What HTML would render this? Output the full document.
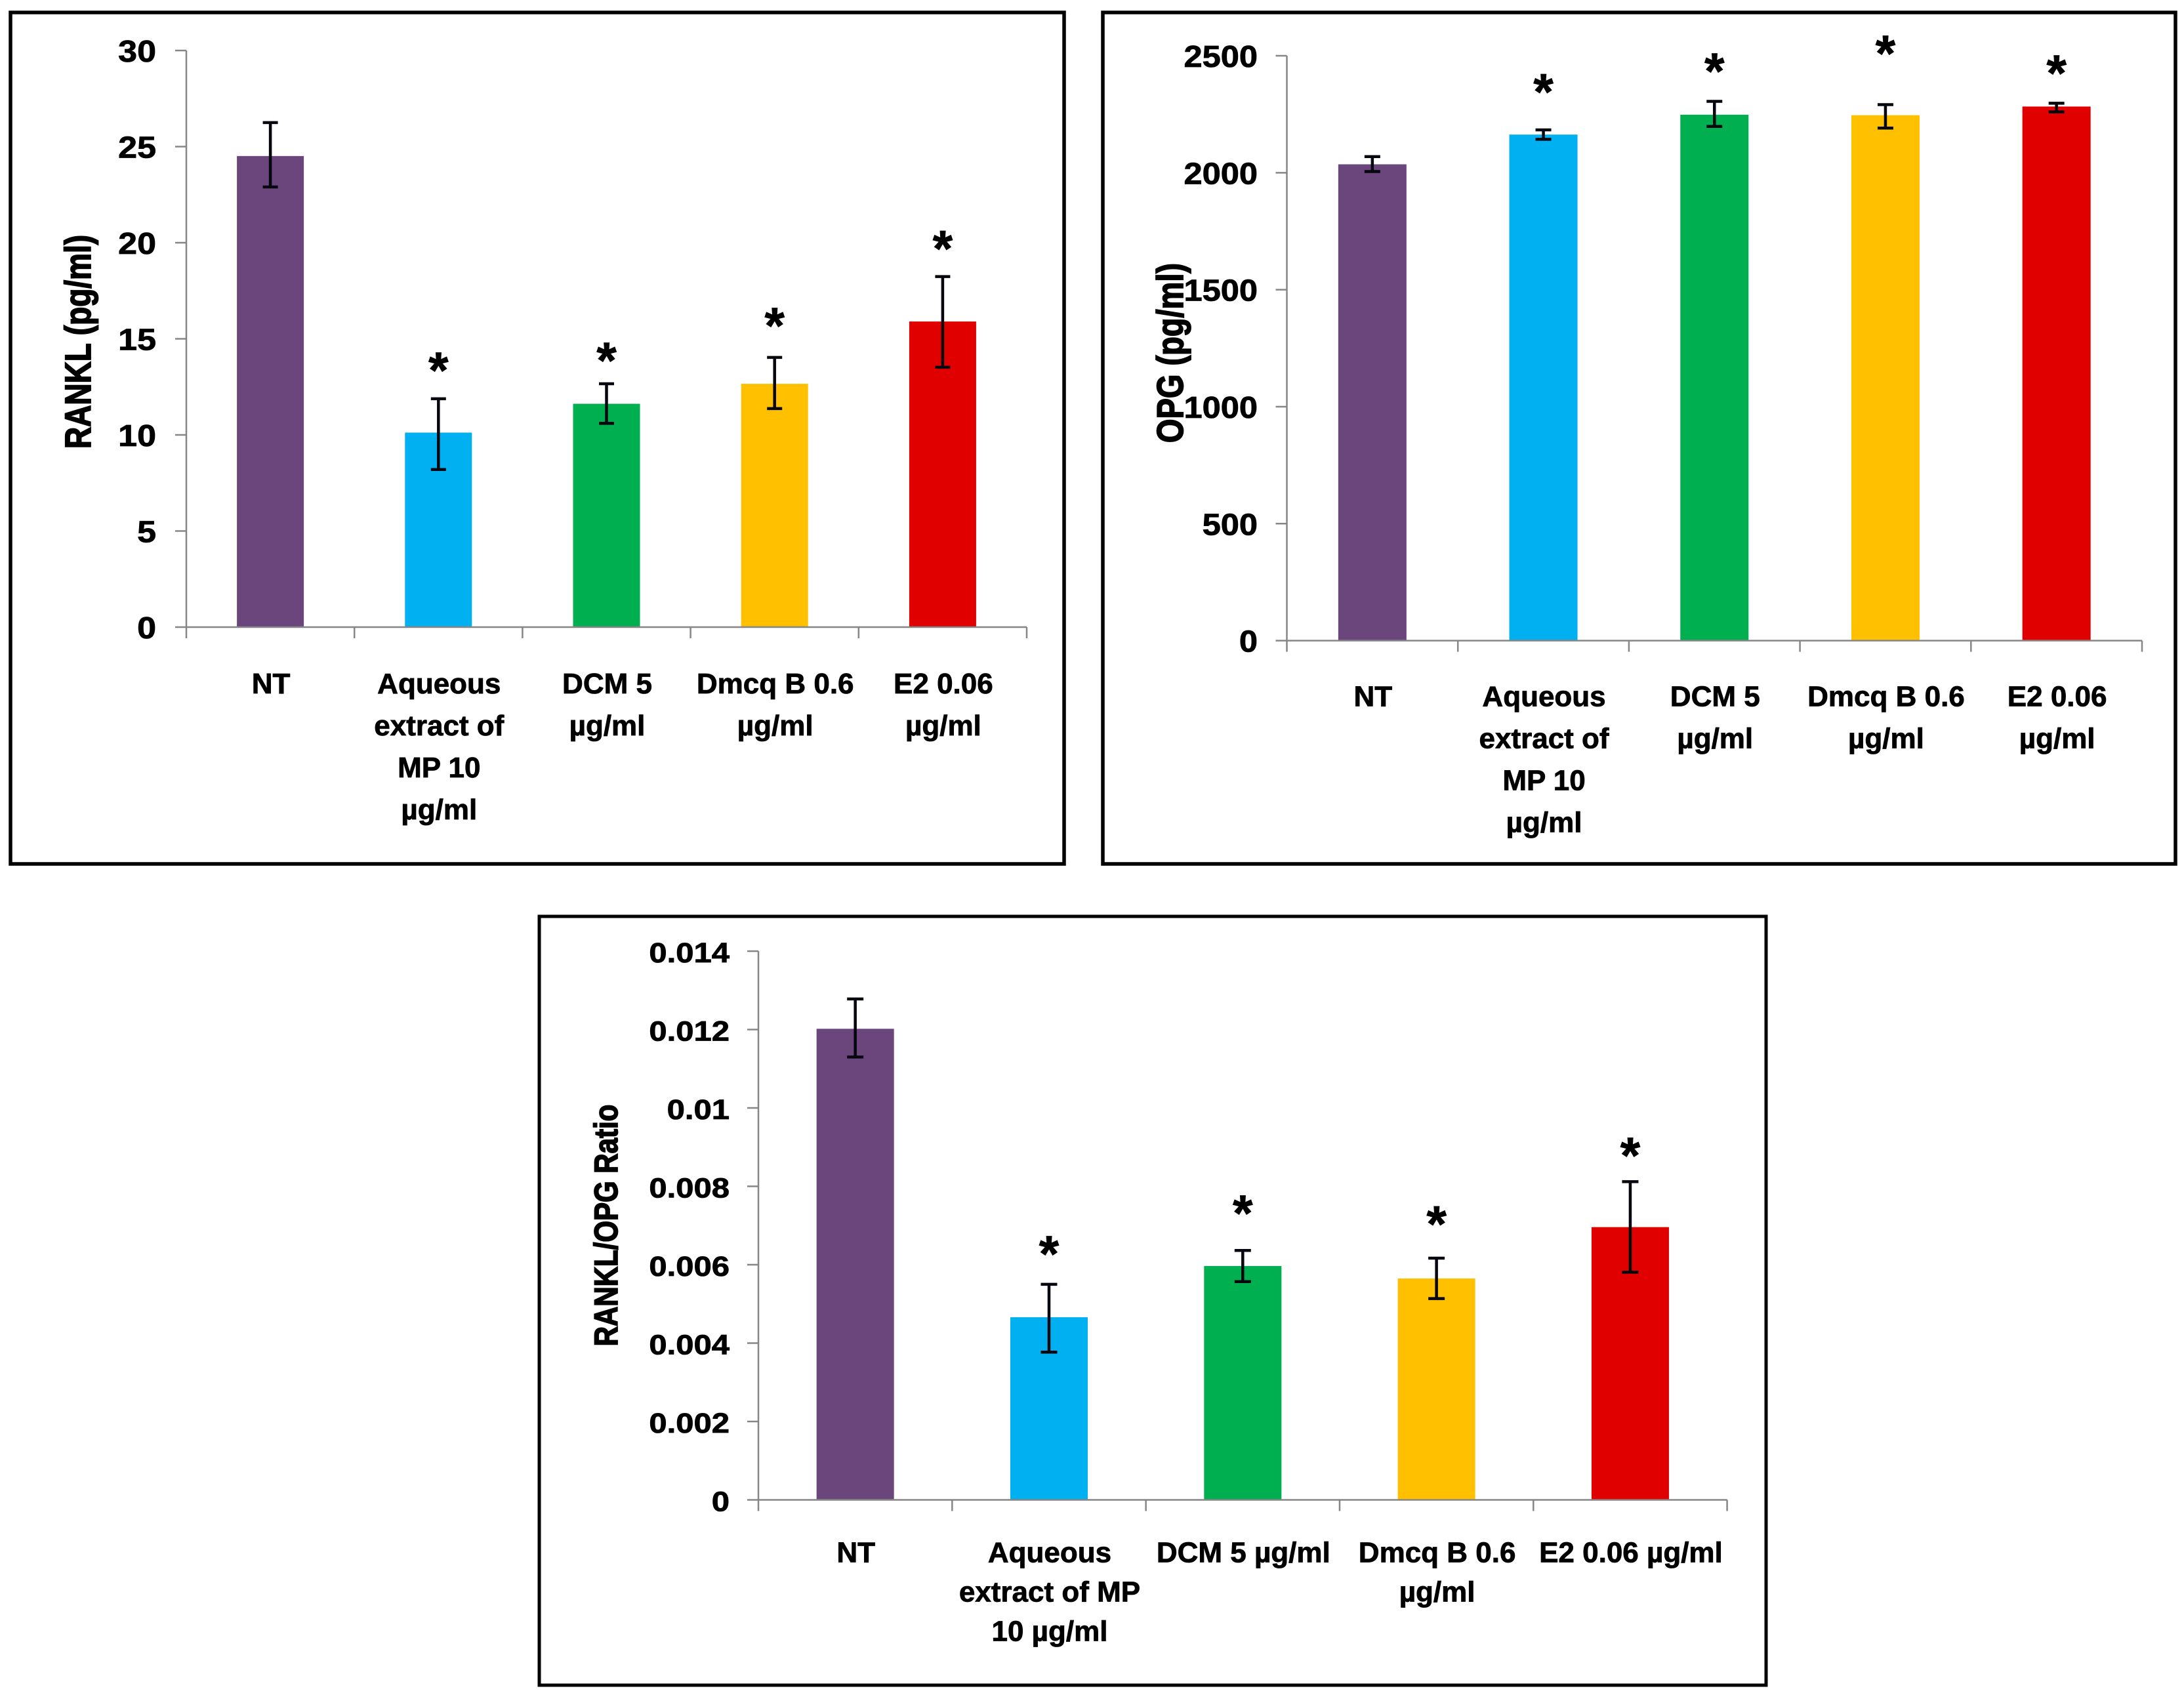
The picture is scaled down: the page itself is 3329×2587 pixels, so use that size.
<!DOCTYPE html>
<html lang="en">
<head>
<meta charset="utf-8">
<title>RANKL, OPG and RANKL/OPG ratio bar charts</title>
<style>
html,body{margin:0;padding:0;background:#fff;}
svg{display:block;}
text{font-family:"Liberation Sans",sans-serif;font-weight:bold;fill:#000;stroke:#000;stroke-width:0.8px;}
</style>
</head>
<body>
<svg id="figure" xmlns="http://www.w3.org/2000/svg" width="3329" height="2587" viewBox="0 0 3329 2587">
<rect x="0" y="0" width="3329" height="2587" fill="#fff"/>
</svg>
<script>
// Shared category colours
const barColors = ['#6A467D', '#00B0F0', '#00B050', '#FFC000', '#E00000'];

// Chart 1: RANKL
const rankValues = [24.51, 10.12, 11.62, 12.66, 15.9];
const rankErrHigh = [26.25, 11.88, 12.66, 14.03, 18.24];
const rankErrLow = [22.9, 8.2, 10.6, 11.37, 13.52];
const rankStars = [null, 13.65, 14.16, 15.97, 19.99];
const rankTicks = [0, 5, 10, 15, 20, 25, 30];
const rankTickLabels = ['0', '5', '10', '15', '20', '25', '30'];
const rankCategories = [['NT'], ['Aqueous', 'extract of', 'MP 10', 'µg/ml'], ['DCM 5', 'µg/ml'], ['Dmcq B 0.6', 'µg/ml'], ['E2 0.06', 'µg/ml']];

// Chart 2: OPG
const opgValues = [2036, 2163, 2248, 2246, 2283];
const opgErrHigh = [2069, 2183, 2305, 2291, 2297];
const opgErrLow = [2005, 2143, 2198, 2191, 2260];
const opgStars = [null, 2370, 2458, 2534, 2449];
const opgTicks = [0, 500, 1000, 1500, 2000, 2500];
const opgTickLabels = ['0', '500', '1000', '1500', '2000', '2500'];
const opgCategories = [['NT'], ['Aqueous', 'extract of', 'MP 10', 'µg/ml'], ['DCM 5', 'µg/ml'], ['Dmcq B 0.6', 'µg/ml'], ['E2 0.06', 'µg/ml']];

// Chart 3: RANKL/OPG ratio
const ratioValues = [0.01202, 0.00466, 0.005967, 0.005649, 0.006959];
const ratioErrHigh = [0.01278, 0.0055, 0.006363, 0.006167, 0.00812];
const ratioErrLow = [0.0113, 0.00377, 0.00557, 0.005135, 0.00581];
const ratioStars = [null, 0.00642, 0.00746, 0.00718, 0.00893];
const ratioTicks = [0, 0.002, 0.004, 0.006, 0.008, 0.01, 0.012, 0.014];
const ratioTickLabels = ['0', '0.002', '0.004', '0.006', '0.008', '0.01', '0.012', '0.014'];
const ratioCategories = [['NT'], ['Aqueous', 'extract of MP', '10 µg/ml'], ['DCM 5 µg/ml'], ['Dmcq B 0.6', 'µg/ml'], ['E2 0.06 µg/ml']];

const NS = 'http://www.w3.org/2000/svg';
const figure = document.getElementById('figure');

function make(tag, attrs, parent) {
  const el = document.createElementNS(NS, tag);
  for (const k in attrs) el.setAttribute(k, attrs[k]);
  parent.appendChild(el);
  return el;
}

function drawChart(cfg) {
  const g = make('g', {}, figure);
  
  

  const frame = make('rect', {
    x: cfg.frame[0], y: cfg.frame[1],
    width: cfg.frame[2] - cfg.frame[0], height: cfg.frame[3] - cfg.frame[1],
    fill: '#fff', stroke: '#000', 'stroke-width': cfg.frameWidth
  }, g);
  
  

  const maxV = cfg.ticks[cfg.ticks.length - 1];
  const yScale = v => cfg.baseY - (v / maxV) * (cfg.baseY - cfg.topY);
  const count = cfg.values.length;
  const step = (cfg.rightX - cfg.axisX) / count;
  const xScale = i => cfg.axisX + step * (i + 0.5);

  // bars
  cfg.values.forEach((v, i) => {
    const bar = make('rect', {
      x: xScale(i) - cfg.barWidth / 2, y: yScale(v),
      width: cfg.barWidth, height: cfg.baseY - yScale(v),
      fill: barColors[i]
    }, g);
    
    
  });

  // axes
  const axisColor = '#868686';
  const yAxis = make('line', {x1: cfg.axisX, x2: cfg.axisX, y1: cfg.topY, y2: cfg.baseY, stroke: axisColor, 'stroke-width': 2.5}, g);
  
  
  const xAxis = make('line', {x1: cfg.axisX, x2: cfg.rightX, y1: cfg.baseY, y2: cfg.baseY, stroke: axisColor, 'stroke-width': 2.5}, g);
  
  

  cfg.ticks.forEach((t, i) => {
    const y = yScale(t);
    const tick = make('line', {x1: cfg.axisX - 17, x2: cfg.axisX, y1: y, y2: y, stroke: axisColor, 'stroke-width': 2.5}, g);
    
    
    const lab = make('text', {
      transform: 'translate(' + cfg.tickLabelX + ' ' + (y + 17) + ') scale(' + cfg.tickStretch + ' 1)',
      'text-anchor': 'end', 'font-size': cfg.tickFont
    }, g);
    lab.textContent = cfg.tickLabels[i];
    
    
  });

  for (let i = 0; i <= count; i++) {
    const x = cfg.axisX + step * i;
    const tick = make('line', {x1: x, x2: x, y1: cfg.baseY, y2: cfg.baseY + 17, stroke: axisColor, 'stroke-width': 2.5}, g);
    
    
  }

  // error bars
  cfg.values.forEach((v, i) => {
    const x = xScale(i);
    const hi = yScale(cfg.errHigh[i]);
    const lo = yScale(cfg.errLow[i]);
    const path = make('path', {
      d: 'M' + x + ' ' + hi + 'V' + lo +
         'M' + (x - cfg.capHalf) + ' ' + hi + 'H' + (x + cfg.capHalf) +
         'M' + (x - cfg.capHalf) + ' ' + lo + 'H' + (x + cfg.capHalf),
      stroke: '#06060f', 'stroke-width': 4.5, fill: 'none'
    }, g);
    
    
  });

  // significance stars
  cfg.stars.forEach((s, i) => {
    if (s === null) return;
    const star = make('text', {x: xScale(i), y: yScale(s) + 35, 'text-anchor': 'middle', 'font-size': 78}, g);
    star.textContent = '*';
    
    
  });

  // category labels
  cfg.categories.forEach((lines, i) => {
    lines.forEach((line, j) => {
      const lab = make('text', {
        x: xScale(i) + 1, y: cfg.baseY + cfg.catOffset + j * cfg.catLine,
        'text-anchor': 'middle', 'font-size': cfg.catFont
      }, g);
      lab.textContent = line;
      
      
    });
  });

  // y-axis title
  const title = make('text', {
    transform: 'translate(' + cfg.titleX + ' ' + cfg.titleY + ') rotate(-90) scale(1 1.2)',
    'text-anchor': 'middle', 'font-size': cfg.titleFont, style: 'stroke-width:1.5px'
  }, g);
  title.textContent = cfg.title;
  
  
}

drawChart({
  name: 'rankl', title: 'RANKL (pg/ml)',
  values: rankValues, errHigh: rankErrHigh, errLow: rankErrLow, stars: rankStars,
  ticks: rankTicks, tickLabels: rankTickLabels, categories: rankCategories,
  frame: [16, 19, 1622, 1317], frameWidth: 5.5,
  axisX: 284, rightX: 1565, topY: 77, baseY: 956, barWidth: 102, capHalf: 11.5,
  tickLabelX: 238, tickFont: 46, tickStretch: 1.13, catFont: 44, catOffset: 101, catLine: 64,
  titleX: 138, titleY: 521, titleFont: 46
});

drawChart({
  name: 'opg', title: 'OPG (pg/ml)',
  values: opgValues, errHigh: opgErrHigh, errLow: opgErrLow, stars: opgStars,
  ticks: opgTicks, tickLabels: opgTickLabels, categories: opgCategories,
  frame: [1681, 19, 3316, 1317], frameWidth: 5.5,
  axisX: 1961.5, rightX: 3265, topY: 85, baseY: 976.6, barWidth: 104, capHalf: 12,
  tickLabelX: 1917, tickFont: 46, tickStretch: 1.1, catFont: 44, catOffset: 100, catLine: 64,
  titleX: 1803, titleY: 538, titleFont: 47
});

drawChart({
  name: 'ratio', title: 'RANKL/OPG Ratio',
  values: ratioValues, errHigh: ratioErrHigh, errLow: ratioErrLow, stars: ratioStars,
  ticks: ratioTicks, tickLabels: ratioTickLabels, categories: ratioCategories,
  frame: [822, 1397, 2692, 2569], frameWidth: 5,
  axisX: 1156, rightX: 2632.6, topY: 1450, baseY: 2286.5, barWidth: 118, capHalf: 12.5,
  tickLabelX: 1112, tickFont: 43, tickStretch: 1.14, catFont: 44, catOffset: 95, catLine: 60,
  titleX: 941, titleY: 1868, titleFont: 42
});
</script>
</body>
</html>
